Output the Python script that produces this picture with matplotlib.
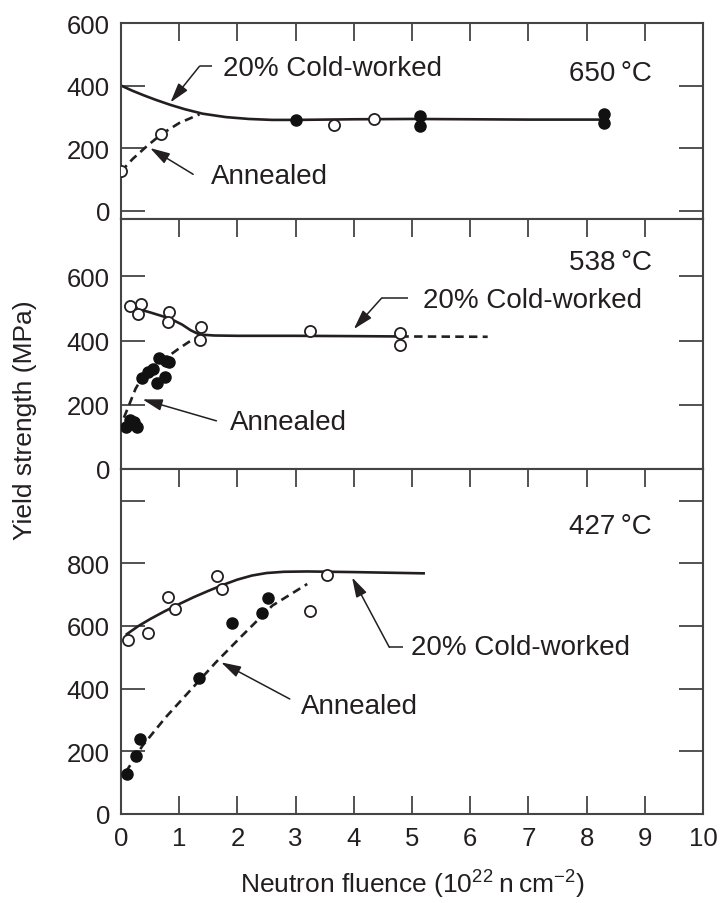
import matplotlib.pyplot as plt
import numpy as np

plt.rcParams['font.family'] = ['Liberation Sans', 'DejaVu Sans']
plt.rcParams['mathtext.fontset'] = 'custom'
plt.rcParams['mathtext.rm'] = 'Liberation Sans'
plt.rcParams['mathtext.it'] = 'Liberation Sans:italic'

ink = '#231f20'
frame = '#444444'

# ---- 650 C panel
t650_open_x = [0.0, 0.68, 3.66, 4.35]
t650_open_y = [125, 244, 273, 292]
t650_fill_x = [3.0, 5.13, 5.13, 8.3, 8.3]
t650_fill_y = [291, 302, 272, 308, 280]
cw650_x = [0, 0.2, 0.4, 0.6, 0.85, 1.1, 1.4, 1.8, 2.2, 2.6, 3.0, 4.0, 5.0, 6.0, 7.0, 8.3]
cw650_y = [400, 383, 368, 354, 338, 324, 310, 299, 293, 290, 290, 292, 293, 292, 291, 291]
an650_x = [0, 0.2, 0.45, 0.7, 1.0, 1.35]
an650_y = [125, 165, 207, 245, 280, 308]

# ---- 538 C panel
t538_open_x = [0.16, 0.34, 0.30, 0.83, 0.81, 1.38, 1.35, 3.25, 4.8, 4.8]
t538_open_y = [508, 514, 482, 490, 457, 441, 401, 431, 425, 385]
t538_fill_x = [0.08, 0.15, 0.22, 0.28, 0.36, 0.46, 0.55, 0.62, 0.65, 0.77, 0.76, 0.82]
t538_fill_y = [130, 152, 145, 132, 283, 303, 312, 267, 345, 336, 287, 332]
cw538_x = [0.21, 0.5, 0.84, 1.05, 1.2, 1.35, 1.6, 2.0, 3.0, 4.0, 4.8]
cw538_y = [503, 488, 469, 450, 432, 419, 416, 415, 415, 414, 413]
cw538_ext_x = [4.8, 6.3]
cw538_ext_y = [413, 412]
an538_x = [0.05, 0.14, 0.25, 0.38, 0.55, 0.78, 1.0, 1.2, 1.35]
an538_y = [160, 200, 250, 290, 320, 347, 376, 400, 413]

# ---- 427 C panel
t427_open_x = [0.125, 0.47, 0.81, 0.92, 1.65, 1.74, 3.25, 3.54]
t427_open_y = [555, 578, 691, 654, 758, 718, 647, 763]
t427_fill_x = [0.10, 0.26, 0.33, 1.34, 1.91, 2.43, 2.52]
t427_fill_y = [128, 184, 239, 433, 608, 643, 688]
cw427_x = [0.1, 0.3, 0.5, 0.75, 1.0, 1.25, 1.5, 1.75, 2.0, 2.25, 2.5, 2.8, 3.2, 4.0, 5.2]
cw427_y = [574, 600, 622, 647, 670, 692, 712, 731, 748, 761, 769, 773, 774, 772, 768]
an427_x = [0.08, 0.37, 0.77, 1.34, 1.63, 2.08, 2.6, 3.2]
an427_y = [133, 218, 309, 425, 484, 569, 665, 734]

W, H = 720, 904
fig = plt.figure(figsize=(W / 100, H / 100), dpi=100)


def box(top, bottom):
    return [121 / W, 1 - bottom / H, (703 - 121) / W, (bottom - top) / H]


ax1 = fig.add_axes(box(24, 220))
ax2 = fig.add_axes(box(220, 470))
ax3 = fig.add_axes(box(470, 815))

dash = (3.2, 2.0)


def style(ax, ylim, yticks, ylabels, bottom):
    ax.set_xlim(0, 10)
    ax.set_ylim(*ylim)
    ax.set_xticks(range(0, 11))
    ax.set_yticks(yticks)
    ax.set_yticklabels(ylabels)
    for s in ax.spines.values():
        s.set_linewidth(1.5)
        s.set_color(frame)
    ax.tick_params(axis='x', direction='in', length=13, width=1.3, color=frame,
                   top=True, bottom=bottom, labelbottom=bottom,
                   labelsize=18.5, labelcolor=ink, pad=9)
    ax.tick_params(axis='y', direction='in', length=17, width=1.3, color=frame,
                   left=True, right=True, labelsize=18.5, labelcolor=ink, pad=8)


def pts(ax, ox, oy, fx, fy):
    ax.plot(ox, oy, 'o', ms=8, mfc='white', mec=ink, mew=1.3, ls='none', zorder=5)
    ax.plot(fx, fy, 'o', ms=8, mfc='#111111', mec='#111111', mew=1.0, ls='none', zorder=5)


def arrow(ax, path, tip):
    if len(path) > 1:
        ax.plot([p[0] for p in path], [p[1] for p in path], color=ink, lw=1.1,
                solid_capstyle='butt')
    ax.annotate('', xy=tip, xytext=path[-1],
                arrowprops=dict(arrowstyle='-|>,head_length=0.75,head_width=0.22',
                                mutation_scale=16, color=ink, lw=1.1,
                                shrinkA=0, shrinkB=0))


def label(ax, x, y, s, ha='left'):
    ax.text(x, y, s, fontsize=20, color=ink, ha=ha, va='center')


# top panel
ax1.plot(cw650_x, cw650_y, color=ink, lw=1.9)
ax1.plot(an650_x, an650_y, color=ink, lw=1.9, dashes=dash)
pts(ax1, t650_open_x, t650_open_y, t650_fill_x, t650_fill_y)
style(ax1, (-27, 600), [0, 200, 400, 600], ['0', '200', '400', '600'], False)
label(ax1, 1.76, 457, '20% Cold-worked')
arrow(ax1, [(1.57, 462), (1.35, 462)], (0.85, 346))
label(ax1, 1.55, 110, 'Annealed')
arrow(ax1, [(1.24, 116)], (0.50, 200))
label(ax1, 9.12, 441, '650\u2009°C', ha='right')

# middle panel
ax2.plot(cw538_x, cw538_y, color=ink, lw=1.9)
ax2.plot(cw538_ext_x, cw538_ext_y, color=ink, lw=1.9, dashes=dash)
ax2.plot(an538_x, an538_y, color=ink, lw=1.9, dashes=dash)
pts(ax2, t538_open_x, t538_open_y, t538_fill_x, t538_fill_y)
style(ax2, (0, 779), [0, 200, 400, 600], ['0', '200', '400', '600'], False)
label(ax2, 5.19, 528, '20% Cold-worked')
arrow(ax2, [(4.93, 533), (4.48, 533)], (4.0, 436))
label(ax2, 1.87, 146, 'Annealed')
arrow(ax2, [(1.64, 150)], (0.37, 217))
label(ax2, 9.12, 644, '538\u2009°C', ha='right')

# bottom panel
ax3.plot(cw427_x, cw427_y, color=ink, lw=1.9)
ax3.plot(an427_x, an427_y, color=ink, lw=1.9, dashes=dash)
pts(ax3, t427_open_x, t427_open_y, t427_fill_x, t427_fill_y)
style(ax3, (0, 1101), [0, 200, 400, 600, 800, 1000],
      ['0', '200', '400', '600', '800', ''], True)
label(ax3, 4.98, 532, '20% Cold-worked')
arrow(ax3, [(4.84, 532), (4.61, 532)], (3.97, 755))
label(ax3, 3.1, 345, 'Annealed')
arrow(ax3, [(2.9, 367)], (1.72, 484))
label(ax3, 9.12, 920, '427\u2009°C', ha='right')

fig.text(25 / W, 1 - 420 / H, 'Yield strength (MPa)', rotation=90, fontsize=19,
         color=ink, ha='center', va='center')
fig.text(412 / W, 1 - 885 / H, 'Neutron fluence (10$^{22}$\u2009n\u2009cm$^{-2}$)',
         fontsize=19, color=ink, ha='center', va='center')

fig.savefig('out.png', dpi=100, facecolor='white')
